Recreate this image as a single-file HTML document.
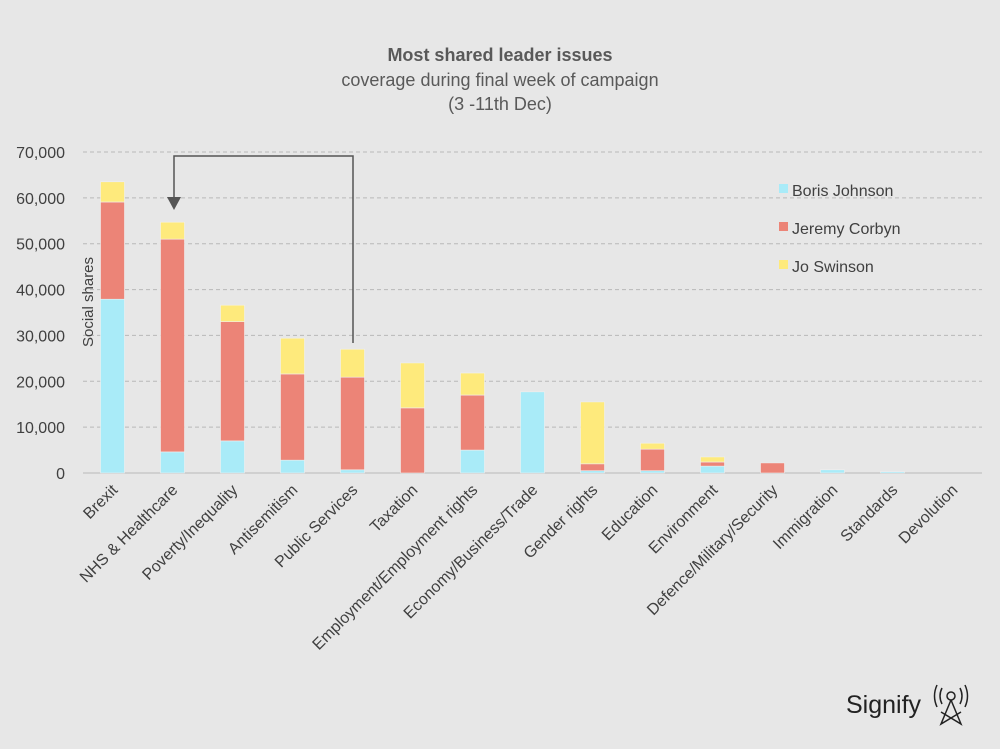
<!DOCTYPE html>
<html><head><meta charset="utf-8"><style>
body{margin:0;background:#e7e7e7;font-family:"Liberation Sans",sans-serif}
svg{display:block}
</style></head><body>
<svg id="chart" width="1000" height="749" xmlns="http://www.w3.org/2000/svg">
<rect width="1000" height="749" fill="#e7e7e7"/>
<text x="500" y="61" text-anchor="middle" font-size="18" font-weight="bold" fill="#595959">Most shared leader issues</text>
<text x="500" y="86" text-anchor="middle" font-size="18" fill="#595959">coverage during final week of campaign</text>
<text x="500" y="110" text-anchor="middle" font-size="18" fill="#595959">(3 -11th Dec)</text>
<g id="grid"></g><g id="bars"></g><g id="xlabels"></g><g id="ylabels"></g>
<text transform="translate(93,302) rotate(-90)" text-anchor="middle" font-size="15" fill="#404040">Social shares</text>
<path d="M353,343 V156 H174 V200" fill="none" stroke="#555" stroke-width="1.5"/>
<path d="M167,197 L181,197 L174,210 Z" fill="#555"/>
<g>
<rect x="779" y="184" width="9" height="9" fill="#a9ebf8"/>
<text x="792" y="196" font-size="16" fill="#404040">Boris Johnson</text>
<rect x="779" y="222" width="9" height="9" fill="#ec8477"/>
<text x="792" y="234" font-size="16" fill="#404040">Jeremy Corbyn</text>
<rect x="779" y="260" width="9" height="9" fill="#feea7c"/>
<text x="792" y="272" font-size="16" fill="#404040">Jo Swinson</text>
</g>
<g>
<text x="846" y="713" font-size="25" fill="#222">Signify</text>
<g fill="none" stroke="#222" stroke-width="1.5">
<circle cx="951" cy="696" r="4"/>
<path d="M951,700 L941,724 L961,712 M951,700 L961,724 L941,712"/>
<path d="M942,688 Q938,696 942,704 M960,688 Q964,696 960,704 M937,685 Q932,696 937,707 M965,685 Q970,696 965,707"/>
</g></g>
</svg>
<script>
const categories=["Brexit","NHS & Healthcare","Poverty/Inequality","Antisemitism","Public Services","Taxation","Employment/Employment rights","Economy/Business/Trade","Gender rights","Education","Environment","Defence/Military/Security","Immigration","Standards","Devolution"];
const johnson=[37900,4600,7000,2800,700,0,5000,17700,500,500,1500,0,700,300,0];
const corbyn=[21200,46400,26000,18800,20200,14200,12000,0,1500,4700,900,2200,0,0,0];
const swinson=[4400,3700,3600,7800,6100,9800,4800,0,13500,1300,1100,0,0,0,0];
const yTicks=[0,10000,20000,30000,40000,50000,60000,70000];
const colors=["#a9ebf8","#ec8477","#feea7c"];
const NS="http://www.w3.org/2000/svg";
const x0=82.5,band=60,barW=24,yBase=473,yTop=152,yMax=70000;
const y=v=>yBase-(v/yMax)*(yBase-yTop);
const xc=i=>x0+band*(i+0.5);
function mk(tag,attrs,parent){const e=document.createElementNS(NS,tag);for(const k in attrs)e.setAttribute(k,attrs[k]);document.getElementById(parent).appendChild(e);return e;}
yTicks.forEach(t=>{
  const l=mk("line",{x1:83,x2:982,y1:y(t),y2:y(t),stroke:t===0?"#d0d0d0":"#b8b8b8","stroke-width":t===0?2:1,"stroke-dasharray":t===0?"":"4,3"},"grid");
  
  
  const tx=mk("text",{x:65,y:y(t)+6,"text-anchor":"end","font-size":16,fill:"#404040"},"ylabels");
  tx.textContent=t.toLocaleString("en-US");
  
  
});
const series=[johnson,corbyn,swinson];
categories.forEach((c,i)=>{
  let acc=0;
  series.forEach((s,k)=>{
    const v=s[i]; if(v>0){
      const r=mk("rect",{x:xc(i)-barW/2,y:y(acc+v),width:barW,height:y(acc)-y(acc+v),fill:colors[k],stroke:"#f0f0f0","stroke-width":0.6},"bars");
      
      
    }
    acc+=v;
  });
  const t=mk("text",{transform:`translate(${xc(i)+6},${491}) rotate(-45)`,"text-anchor":"end","font-size":16,fill:"#404040"},"xlabels");
  t.textContent=c;
  
  
});
</script>
</body></html>
